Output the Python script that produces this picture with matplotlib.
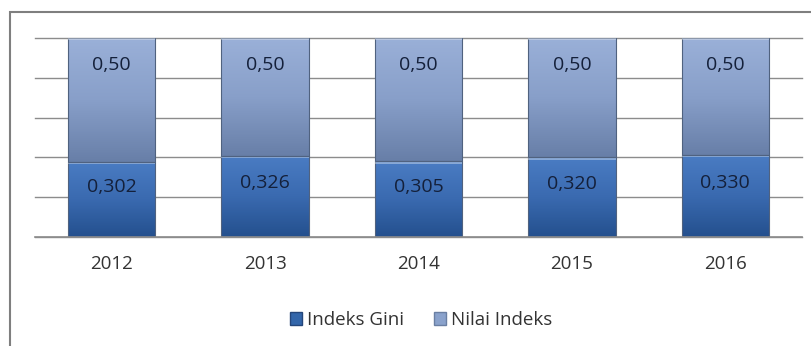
import numpy as np
import matplotlib.pyplot as plt
from matplotlib.patches import Rectangle
from matplotlib.colors import LinearSegmentedColormap

years = ['2012', '2013', '2014', '2015', '2016']
gini = [0.302, 0.326, 0.305, 0.320, 0.330]
nilai = [0.50, 0.50, 0.50, 0.50, 0.50]
gini_labels = ['0,302', '0,326', '0,305', '0,320', '0,330']
nilai_labels = ['0,50', '0,50', '0,50', '0,50', '0,50']
series = ['Indeks Gini', 'Nilai Indeks']

plt.rcParams['font.family'] = ['Open Sans', 'DejaVu Sans']

fig = plt.figure(figsize=(8.12, 3.46), dpi=100)
# outer chart frame (runs off the right and bottom edge)
fig.patches.append(Rectangle((10 / 812, -0.1), 1.2, 1 - 12 / 346 + 0.1,
                             transform=fig.transFigure, fill=False,
                             edgecolor='#7f7f7f', linewidth=1.5))

ax = fig.add_axes([35 / 812, 1 - 237 / 346, (802 - 35) / 812, (237 - 38) / 346])
ymax = 0.8
for y in np.linspace(0, ymax, 6):
    ax.axhline(y, color='#8c8c8c', linewidth=1, zorder=0, clip_on=False)
ax.axhline(0, color='#8c8c8c', linewidth=1.2, zorder=4, clip_on=False)

cm_gini = LinearSegmentedColormap.from_list('g', ['#24508e', '#3a6ab0', '#4a7cc3'])
cm_nilai = LinearSegmentedColormap.from_list('n', ['#687fa8', '#889fc9', '#9ab0d8'])
x = np.arange(len(years))
w = 0.57
grad = np.linspace(0, 1, 100).reshape(-1, 1)

def gradient_bars(bars, cmap):
    for b in bars:
        x0, y0 = b.get_x(), b.get_y()
        bw = b.get_width()
        top = min(y0 + b.get_height(), ymax)
        ax.imshow(grad, cmap=cmap, origin='lower', aspect='auto',
                  extent=[x0, x0 + bw, y0, top], zorder=2)
        ax.add_patch(Rectangle((x0, y0), bw, top - y0, fill=False,
                               edgecolor='#50627f', linewidth=0.8, zorder=3))
        # bevel highlight at the top edge
        ax.add_patch(Rectangle((x0, top - 0.01), bw, 0.01,
                               facecolor='white', alpha=0.35, edgecolor='none', zorder=3))

b1 = ax.bar(x, gini, w, color='#3a6ab0', zorder=1, label=series[0])
b2 = ax.bar(x, nilai, w, bottom=gini, color='#889fc9', zorder=1, label=series[1])
gradient_bars(b1, cm_gini)
gradient_bars(b2, cm_nilai)
ax.set_xlim(-0.5, len(years) - 0.5)
ax.set_ylim(0, ymax)

for i in range(len(years)):
    ax.text(x[i], gini[i] * 0.66, gini_labels[i], ha='center', va='center',
            fontsize=14, color='#14203a', zorder=5)
    ax.text(x[i], 0.69, nilai_labels[i], ha='center', va='center',
            fontsize=14, color='#14203a', zorder=5)

ax.set_xticks(x)
ax.set_xticklabels(years, fontsize=13.5, color='#333333')
ax.tick_params(axis='x', length=0, pad=13)
ax.set_yticks([])
for s in ax.spines.values():
    s.set_visible(False)

leg = fig.legend(handles=[Rectangle((0, 0), 1, 1, facecolor='#3366aa', edgecolor='#24467a'),
                          Rectangle((0, 0), 1, 1, facecolor='#8aa2cc', edgecolor='#6a7fa3')],
                 labels=series, loc='center', bbox_to_anchor=(421 / 812, 1 - 320 / 346),
                 ncol=2, frameon=False, fontsize=13.5, handlelength=0.65, handleheight=0.65,
                 handletextpad=0.25, columnspacing=1.6)
for t in leg.get_texts():
    t.set_color('#333333')

fig.savefig('out.png', dpi=100)
